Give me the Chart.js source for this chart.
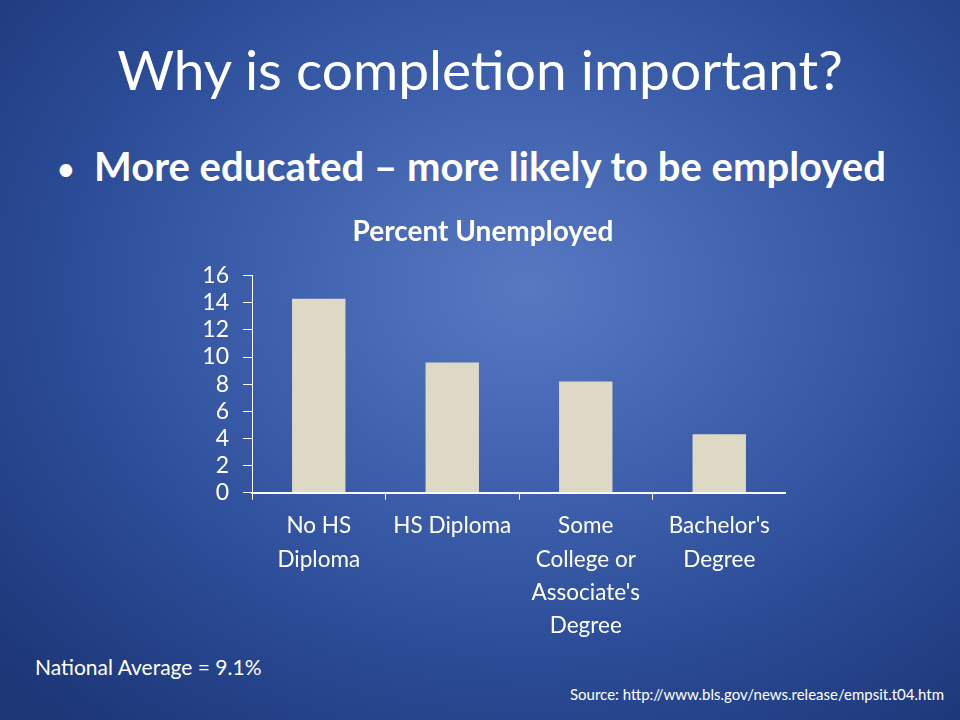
<!DOCTYPE html>
<html>
<head>
<meta charset="utf-8">
<script src="https://cdn.jsdelivr.net/npm/chart.js@4.4.0/dist/chart.umd.min.js"></script>
<style>
    html, body { margin: 0; padding: 0; }
    body {
        width: 960px; height: 720px; overflow: hidden; position: relative;
        background: radial-gradient(ellipse 75% 80% at 55% 40%, #5878c2 0%, #3f61ad 35%, #2b4b96 65%, #1c3676 100%);
        font-family: Lato, "Open Sans", sans-serif;
        color: #fff;
    }
    .title { position: absolute; left: 0; top: 36px; width: 960px; text-align: center; font-size: 55px; white-space: nowrap; }
    .bullet { position: absolute; left: 56px; top: 142px; font-size: 40px; font-weight: bold; white-space: nowrap; }
    .bullet span { display: inline-block; width: 38px; font-weight: normal; font-size: 34px; }
    .note { position: absolute; left: 35px; top: 654px; font-size: 21px; }
    .source { position: absolute; left: 570px; top: 685px; font-size: 15px; white-space: nowrap; }
    #wrap { position: absolute; left: 180px; top: 210px; width: 606px; height: 442px; }
</style>
</head>
<body>
<div class="title">Why is completion important?</div>
<div class="bullet"><span>•</span>More educated – more likely to be employed</div>
<div id="wrap"><canvas id="barChart"></canvas></div>
<div class="note">National Average = 9.1%</div>
<div class="source">Source: http://www.bls.gov/news.release/empsit.t04.htm</div>

<script>
const categories = [['No HS', 'Diploma'], 'HS Diploma', ['Some', 'College or', "Associate's", 'Degree'], ["Bachelor's", 'Degree']];
const unemployed = [14.3, 9.6, 8.2, 4.3];
const yTicks = [0, 2, 4, 6, 8, 10, 12, 14, 16];

document.addEventListener('DOMContentLoaded', function() {
    const ctx = document.getElementById('barChart').getContext('2d');
    new Chart(ctx, {
        type: 'bar',
        data: {
            labels: categories,
            datasets: [{
                label: 'Percent Unemployed',
                data: unemployed,
                backgroundColor: '#ddd9c4',
                borderWidth: 0,
                barPercentage: 0.8,
                categoryPercentage: 0.5
            }]
        },
        options: {
            responsive: true,
            maintainAspectRatio: false,
            animation: false,
            layout: { padding: 0 },
            plugins: {
                legend: { display: false },
                tooltip: { enabled: false },
                title: {
                    display: true,
                    text: 'Percent Unemployed',
                    color: '#fff',
                    font: { family: 'Lato', size: 28, weight: 'bold' },
                    padding: { top: 5, bottom: 27 }
                }
            },
            scales: {
                x: {
                    grid: { display: true, drawOnChartArea: false, drawTicks: true, tickLength: 7, color: '#fff', offset: true },
                    border: { color: '#fff', width: 2 },
                    ticks: {
                        color: '#fff',
                        maxRotation: 0,
                        autoSkip: false,
                        padding: 10,
                        font: { family: 'Lato', size: 22.5, lineHeight: 1.47 }
                    }
                },
                y: {
                    min: 0,
                    max: 16,
                    afterBuildTicks: function(scale) {
                        scale.ticks = yTicks.map(v => ({ value: v }));
                    },
                    afterFit: function(scale) { scale.width = 72; },
                    grid: { display: true, drawOnChartArea: false, drawTicks: true, tickLength: 9, color: '#fff' },
                    border: { color: '#fff', width: 1 },
                    ticks: {
                        color: '#fff',
                        padding: 14,
                        autoSkip: false,
                        font: { family: 'Lato', size: 23, lineHeight: 1 }
                    }
                }
            }
        }
    });
});
</script>
</body>
</html>
